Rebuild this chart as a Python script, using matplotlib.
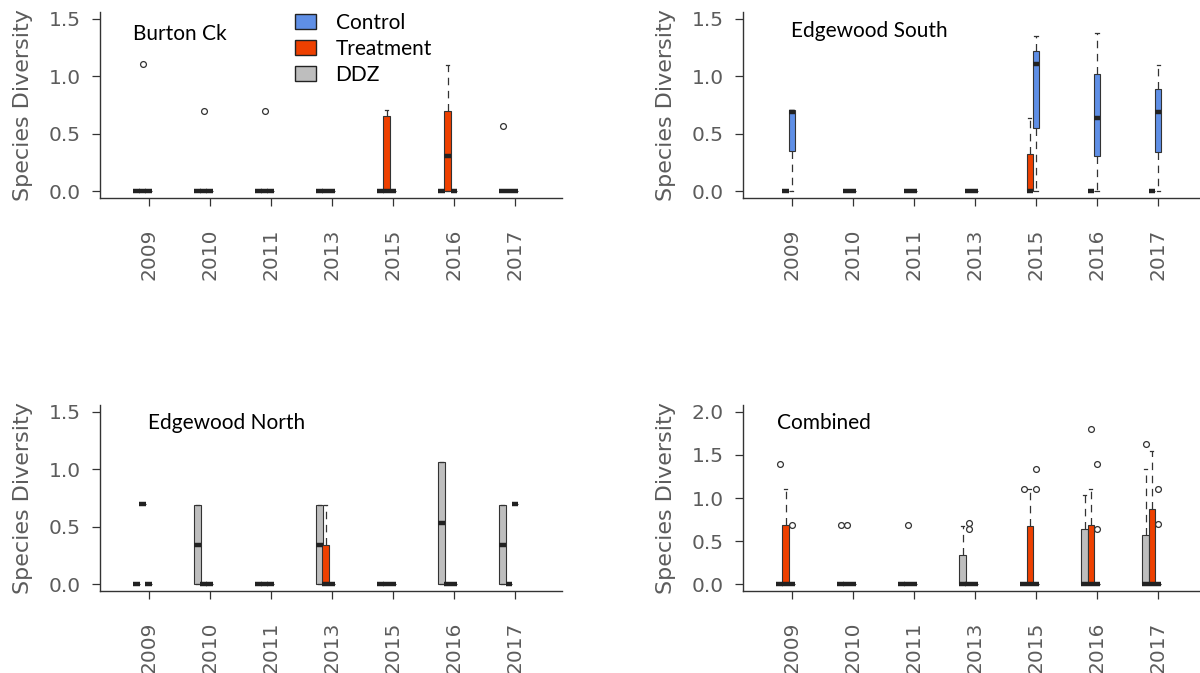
import numpy as np
import matplotlib.pyplot as plt
from matplotlib.patches import Patch

years = ["2009", "2010", "2011", "2013", "2015", "2016", "2017"]
groups = ["Control", "Treatment", "DDZ"]
colors = {"Control": "#5f8fe6", "Treatment": "#ee4000", "DDZ": "#bebebe"}

# five-number summaries per year: (whislo, q1, med, q3, whishi); None = no plots
Z = (0, 0, 0, 0, 0)
E = []

# Burton Ck
burton_ctrl = [Z, Z, Z, Z, Z, Z, Z]
burton_ctrl_out = [E, E, E, E, E, E, E]
burton_trt = [Z, Z, Z, Z, (0, 0, 0, 0.65, 0.71), (0, 0, 0.31, 0.70, 1.10), Z]
burton_trt_out = [[1.11], [0.70], [0.70], E, E, E, E]
burton_ddz = [Z, Z, Z, Z, Z, Z, Z]
burton_ddz_out = [E, E, E, E, E, E, [0.57]]

# Edgewood South
south_ctrl = [(0, 0.35, 0.69, 0.71, 0.71), Z, Z, Z,
              (0, 0.55, 1.11, 1.22, 1.35), (0, 0.31, 0.64, 1.02, 1.38),
              (0, 0.34, 0.69, 0.89, 1.10)]
south_ctrl_out = [E, E, E, E, E, E, E]
south_trt = [Z, Z, Z, Z, (0, 0, 0, 0.32, 0.64), Z, Z]
south_trt_out = [E, E, E, E, E, E, E]
south_ddz = [None] * 7
south_ddz_out = [E, E, E, E, E, E, E]

# Edgewood North
north_ctrl = [Z, Z, Z, Z, Z, Z, (0.70, 0.70, 0.70, 0.70, 0.70)]
north_ctrl_out = [E, E, E, E, E, E, E]
north_trt = [(0.70, 0.70, 0.70, 0.70, 0.70), Z, Z, (0, 0, 0, 0.34, 0.69), Z, Z, Z]
north_trt_out = [E, E, E, E, E, E, E]
north_ddz = [Z, (0, 0, 0.34, 0.69, 0.69), Z, (0, 0, 0.34, 0.69, 0.69), Z,
             (0, 0, 0.53, 1.06, 1.06), (0, 0, 0.34, 0.69, 0.69)]
north_ddz_out = [E, E, E, E, E, E, E]

# Combined
comb_ctrl = [Z, Z, Z, Z, Z, Z, Z]
comb_ctrl_out = [[0.69], E, E, E, [1.10, 1.34], [1.40, 0.64], [1.10, 0.70]]
comb_trt = [(0, 0, 0, 0.69, 1.10), Z, Z, Z, (0, 0, 0, 0.67, 1.10),
            (0, 0, 0, 0.69, 1.10), (0, 0, 0, 0.87, 1.55)]
comb_trt_out = [E, [0.69], [0.69], [0.71, 0.64], E, [1.80], E]
comb_ddz = [Z, Z, Z, (0, 0, 0, 0.34, 0.67), Z, (0, 0, 0, 0.64, 1.03),
            (0, 0, 0, 0.565, 1.34)]
comb_ddz_out = [[1.40], [0.69], E, E, [1.10], E, [1.63]]

sites = [
    ("Burton Ck", 1.5, {"Control": (burton_ctrl, burton_ctrl_out),
                        "Treatment": (burton_trt, burton_trt_out),
                        "DDZ": (burton_ddz, burton_ddz_out)}),
    ("Edgewood South", 1.5, {"Control": (south_ctrl, south_ctrl_out),
                             "Treatment": (south_trt, south_trt_out),
                             "DDZ": (south_ddz, south_ddz_out)}),
    ("Edgewood North", 1.5, {"Control": (north_ctrl, north_ctrl_out),
                             "Treatment": (north_trt, north_trt_out),
                             "DDZ": (north_ddz, north_ddz_out)}),
    ("Combined", 2.0, {"Control": (comb_ctrl, comb_ctrl_out),
                       "Treatment": (comb_trt, comb_trt_out),
                       "DDZ": (comb_ddz, comb_ddz_out)}),
]

offsets = {"Control": 0.0, "Treatment": -0.1, "DDZ": -0.2}
box_w = 0.11
edge = "#333333"
tick_grey = "#5c5c5c"

fig = plt.figure(figsize=(12, 6.73), dpi=100)
rects = [[0.0833, 0.7058, 0.385, 0.2764], [0.6192, 0.7058, 0.385, 0.2764],
         [0.0833, 0.1218, 0.385, 0.2764], [0.6192, 0.1218, 0.385, 0.2764]]
title_xy = [(0.071, 0.88), (0.104, 0.90), (0.104, 0.905), (0.074, 0.905)]

x = np.arange(1, len(years) + 1)

for k, (name, ytop, data) in enumerate(sites):
    ax = fig.add_axes(rects[k])
    for g in ["DDZ", "Treatment", "Control"]:
        boxes, outs = data[g]
        st, pos = [], []
        for i, (b, o) in enumerate(zip(boxes, outs)):
            if b is None:
                continue
            lo, q1, med, q3, hi = b
            st.append(dict(whislo=lo, q1=q1, med=med, q3=q3, whishi=hi, fliers=o))
            pos.append(x[i] + offsets[g])
        if not st:
            continue
        ax.bxp(st, positions=pos, widths=box_w, capwidths=0.05,
               patch_artist=True, manage_ticks=False,
               boxprops=dict(facecolor=colors[g], edgecolor=edge, lw=0.8),
               medianprops=dict(color="#222222", lw=3.2, solid_capstyle="butt"),
               whiskerprops=dict(color=edge, lw=0.9, linestyle=(0, (6, 4.5))),
               capprops=dict(color=edge, lw=0.9),
               flierprops=dict(marker="o", markersize=4.2, markerfacecolor="none",
                               markeredgecolor=edge, markeredgewidth=0.9))

    pad = ytop * 0.04
    ax.set_ylim(-pad, ytop + pad)
    ax.set_xlim(0.2, 7.77)
    ax.set_yticks(np.arange(0, ytop + 0.01, 0.5))
    ax.set_yticklabels([f"{v:.1f}" for v in np.arange(0, ytop + 0.01, 0.5)])
    ax.set_xticks(x)
    ax.set_xticklabels(years, rotation=90)
    for s in ["top", "right"]:
        ax.spines[s].set_visible(False)
    for s in ["left", "bottom"]:
        ax.spines[s].set_color(edge)
        ax.spines[s].set_linewidth(1.0)
    ax.tick_params(axis="both", length=6, width=0.9, color=edge,
                   labelcolor=tick_grey, labelsize=14.5)
    ax.tick_params(axis="x", pad=16)
    ax.tick_params(axis="y", pad=8)
    ax.set_ylabel("Species Diversity", fontsize=16, color=tick_grey, labelpad=11)
    ax.text(title_xy[k][0], title_xy[k][1], name, transform=ax.transAxes,
            fontsize=15, family="Lato", va="center", ha="left", color="black")

    if k == 0:
        handles = [Patch(facecolor=colors[g], edgecolor="#222222", lw=1) for g in groups]
        ax.legend(handles, groups, loc="upper left", bbox_to_anchor=(0.422, 0.995),
                  frameon=False, prop=dict(family="Lato", size=15),
                  handlelength=1.0, handleheight=0.7, handletextpad=0.95,
                  labelspacing=0.28, borderpad=0, borderaxespad=0)

fig.savefig("out.png", dpi=100)
